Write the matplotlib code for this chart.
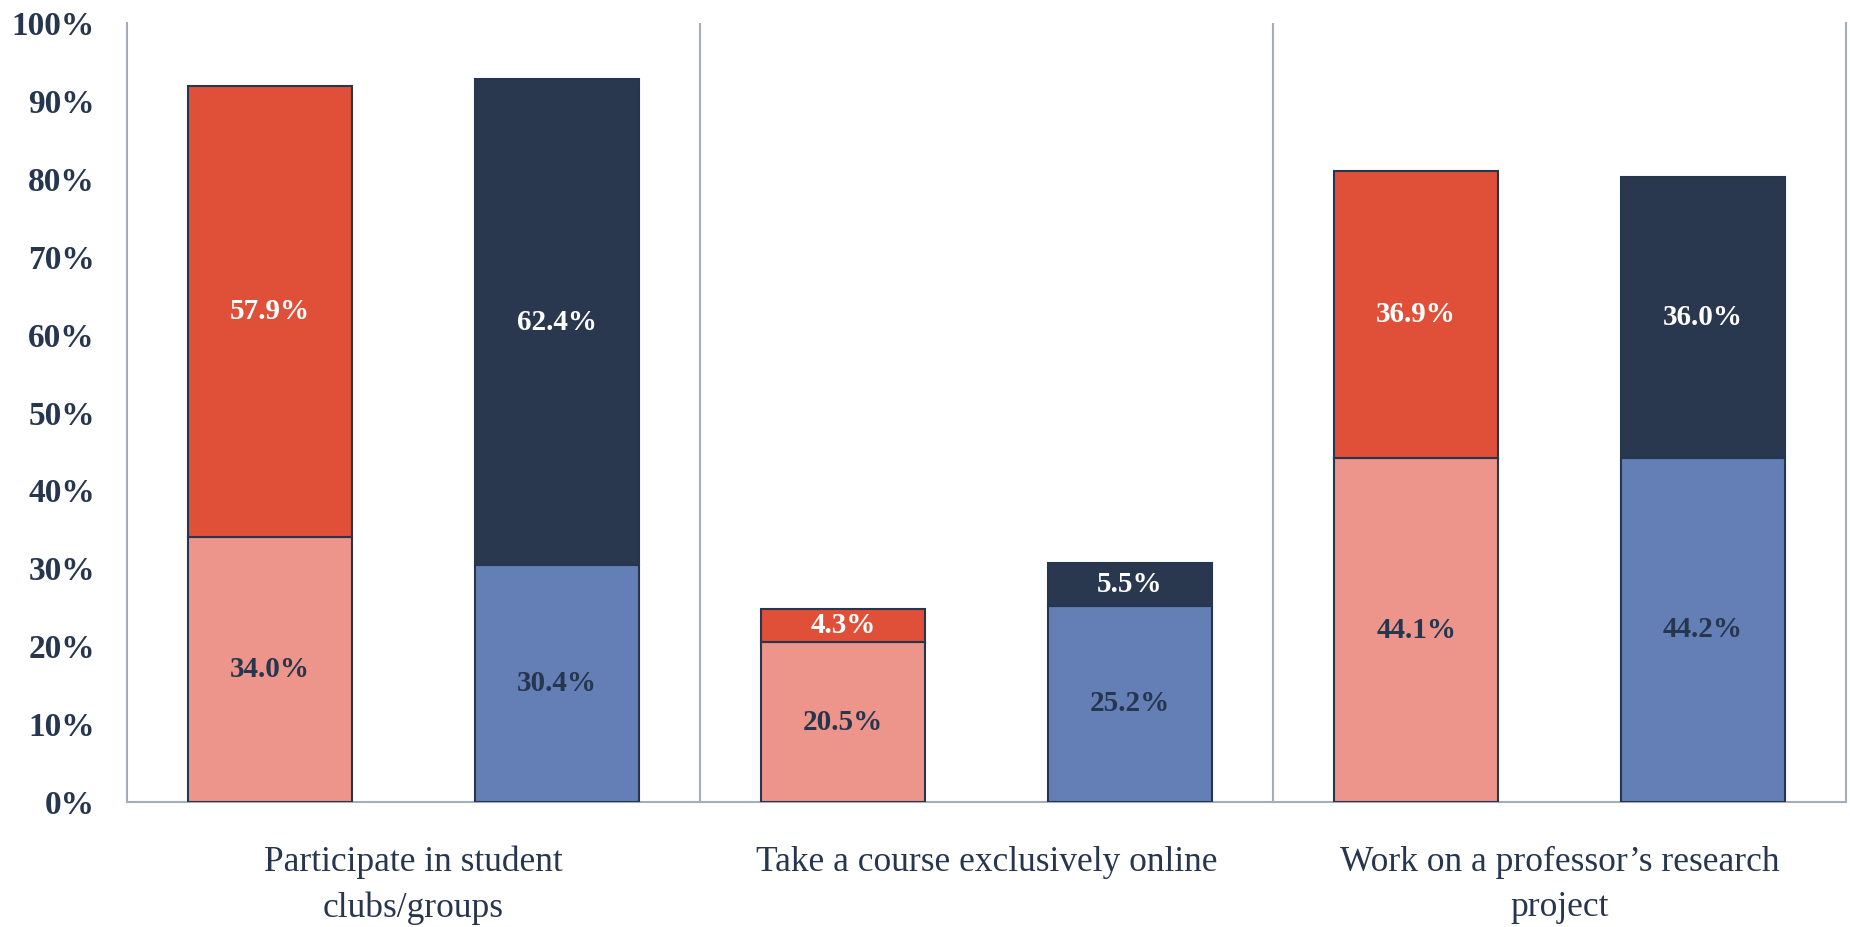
import numpy as np
from matplotlib import pyplot as plt

plt.rcParams['font.family'] = ['Liberation Serif', 'DejaVu Serif']

categories = ['Participate in student\nclubs/groups',
              'Take a course exclusively online',
              'Work on a professor\u2019s research\nproject']
# two bars per category: left = red series, right = blue series
bottom_vals = [34.0, 30.4, 20.5, 25.2, 44.1, 44.2]
top_vals = [57.9, 62.4, 4.3, 5.5, 36.9, 36.0]
bottom_colors = ['#ED958A', '#637FB5'] * 3
top_colors = ['#E04F38', '#29374F'] * 3
yticks = [0, 10, 20, 30, 40, 50, 60, 70, 80, 90, 100]

navy = '#27364F'
gridc = '#A3ADBC'

fig = plt.figure(figsize=(18.5, 9.27), dpi=100)
ax = fig.add_axes([0.0686, 0.1348, 0.9292, 0.8404])

x = np.arange(len(bottom_vals)) + 0.5
w = 0.573
ax.bar(x, bottom_vals, w, color=bottom_colors, edgecolor=navy, linewidth=1.5, zorder=3)
ax.bar(x, top_vals, w, bottom=bottom_vals, color=top_colors, edgecolor=navy, linewidth=1.5, zorder=3)

for i in range(len(x)):
    ax.text(x[i], bottom_vals[i] / 2, '{:.1f}%'.format(bottom_vals[i]),
            ha='center', va='center', fontsize=21, fontweight='bold', color=navy, zorder=4)
    ax.text(x[i], bottom_vals[i] + top_vals[i] / 2, '{:.1f}%'.format(top_vals[i]),
            ha='center', va='center', fontsize=21, fontweight='bold', color='white', zorder=4)

ax.set_xlim(0, 6)
ax.set_ylim(0, 100)
ax.set_yticks(yticks)
ax.set_yticklabels(['{}%'.format(t) for t in yticks], fontsize=24, fontweight='bold', color=navy)
ax.set_xticks([])
ax.tick_params(axis='y', length=0, pad=23)

ax.spines['top'].set_visible(False)
for s in ['left', 'right', 'bottom']:
    ax.spines[s].set_color(gridc)
    ax.spines[s].set_linewidth(1.5)
for xd in [2, 4]:
    ax.axvline(xd, color=gridc, linewidth=1.5, zorder=1)

for i, c in enumerate(categories):
    ax.text(2 * i + 1, -5.6, c, ha='center', va='top', fontsize=25.5, color=navy,
            linespacing=1.5, transform=ax.transData, clip_on=False)

plt.savefig('out.png', dpi=100)
